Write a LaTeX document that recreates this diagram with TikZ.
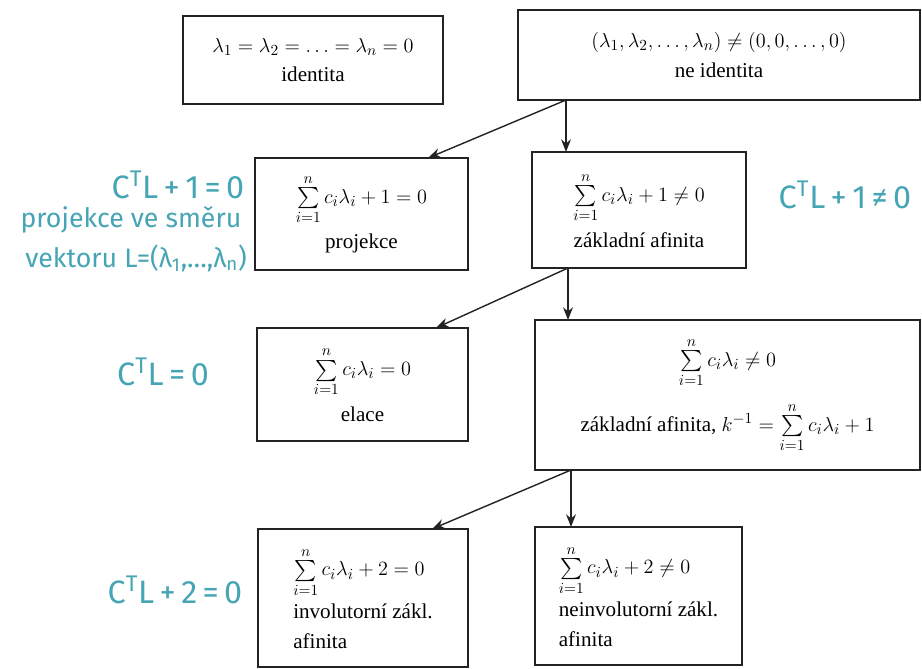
\documentclass[tikz,border=0pt]{standalone}
\usepackage{amsmath,amssymb}
\usepackage{fontspec}
\setmainfont{Liberation Serif}
\newfontfamily\handfont{Fira Sans}
\usepackage{tikz}
\usetikzlibrary{positioning,calc}
\usetikzlibrary{arrows.meta}
\definecolor{InkTeal}{RGB}{70,165,180}
\definecolor{BoxGray}{RGB}{35,35,35}
\newcommand{\csum}{\sum\limits_{i=1}^{n}c_i\lambda_i}
\tikzset{
	box/.style={draw=BoxGray,line width=1.1pt,inner sep=0pt,outer sep=0pt,align=center,
		font=\fontsize{15}{21}\selectfont},
	link/.style={draw=BoxGray,line width=1pt,-{Stealth[length=9pt,width=7pt]}},
	note/.style={text=InkTeal,font=\handfont\fontsize{23}{26}\selectfont},
	smallnote/.style={text=InkTeal,font=\handfont\fontsize{19}{22}\selectfont},
}
\begin{document}
\begin{tikzpicture}[x=0.025cm,y=-0.025cm]
			\useasboundingbox (0,0) rectangle (922,669);
			\node[box,minimum width=6.5cm,minimum height=2.2cm] (identita) at (313,60)
				{$\lambda_1=\lambda_2=\ldots=\lambda_n=0$\\identita};
			\node[box,minimum width=10.05cm,minimum height=2.25cm] (neident) at (719,55)
				{$(\lambda_1,\lambda_2,\ldots,\lambda_n)\neq(0,0,\ldots,0)$\\ne identita};
			\node[box,minimum width=5.33cm,minimum height=2.8cm] (projekce) at (361.5,214)
				{$\csum+1=0$\\[6pt]projekce};
			\node[box,minimum width=5.35cm,minimum height=2.9cm] (zakladni) at (639,210)
				{$\csum+1\neq0$\\[6pt]základní afinita};
			\node[box,minimum width=5.28cm,minimum height=2.83cm] (elace) at (362.5,384.5)
				{$\csum=0$\\[6pt]elace};
			\node[box,minimum width=9.63cm,minimum height=3.75cm] (zakladnik) at (727.5,395)
				{$\csum\neq0$\\[10pt]základní afinita, $k^{-1}=\csum+1$};
			\node[box,align=left,minimum width=5.25cm,minimum height=3.45cm] (involut) at (363,598)
				{$\csum+2=0$\\[4pt]involutorní zákl.\\afinita};
			\node[box,align=left,minimum width=5.18cm,minimum height=3.45cm] (neinvolut) at (638.5,596)
				{$\csum+2\neq0$\\[4pt]neinvolutorní zákl.\\afinita};
			\path (neident.south) ++(-153,0) coordinate (s1);
			\path (zakladni.south) ++(-71,0) coordinate (s2);
			\path (zakladnik.south) ++(-156.5,0) coordinate (s3);
			\draw[link] (s1) -- (s1 |- zakladni.north);
			\draw[link] (s1) -- ($(projekce.north east)+(-40,0)$);
			\draw[link] (s2) -- (s2 |- zakladnik.north);
			\draw[link] (s2) -- ($(elace.north east)+(-32,0)$);
			\draw[link] (s3) -- (s3 |- neinvolut.north);
			\draw[link] (s3) -- ($(involut.north east)+(-36,0)$);
			\node[note] (n1) at (178,185) {C\textsuperscript{T}L\,+\,1\,=\,0};
			\node[smallnote] (n2) at (131,220) {projekce ve směru};
			\node[smallnote] (n3) at (136,258) {vektoru L=(λ\textsubscript{1},…,λ\textsubscript{n})};
			\node[note] (n4) at (845,195) {C\textsuperscript{T}L\,+\,1\,≠\,0};
			\node[note] (n5) at (163,372) {C\textsuperscript{T}L\,=\,0};
			\node[note] (n6) at (175,590) {C\textsuperscript{T}L\,+\,2\,=\,0};
		\end{tikzpicture}
\end{document}
